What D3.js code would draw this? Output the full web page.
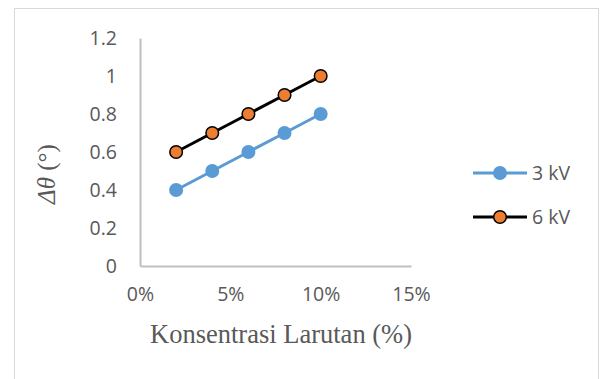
<!DOCTYPE html>
<html>
<head>
<meta charset="utf-8">
<script src="https://cdn.jsdelivr.net/npm/d3@7"></script>
<style>
  html, body { margin: 0; padding: 0; background: #fff; }
  svg { display: block; }
</style>
</head>
<body>
<div id="chart"></div>
<script>
// concentration (fraction) and delta theta per voltage
const konsentrasi = [0.02, 0.04, 0.06, 0.08, 0.10];
const series3kV = [0.4, 0.5, 0.6, 0.7, 0.8];
const series6kV = [0.6, 0.7, 0.8, 0.9, 1.0];
const seriesNames = ['3 kV', '6 kV'];
const xTicks = [0, 0.05, 0.10, 0.15];
const yTicks = [0, 0.2, 0.4, 0.6, 0.8, 1, 1.2];

const width = 600, height = 379;
const plot = { left: 140, right: 411, top: 38, bottom: 266 };

const svg = d3.select('#chart').append('svg')
    .attr('width', width)
    .attr('height', height);

// chart frame
svg.append('rect')
    .attr('x', 14.5).attr('y', 8.5)
    .attr('width', 584).attr('height', 380)
    .attr('fill', '#fff')
    .attr('stroke', '#d9d9d9')
    .attr('stroke-width', 1);

const x = d3.scaleLinear().domain([0, 0.15]).range([plot.left, plot.right]);
const y = d3.scaleLinear().domain([0, 1.2]).range([plot.bottom, plot.top]);

const tickFont = '"Open Sans", "Liberation Sans", sans-serif';
const textColor = '#595959';

// axes
const xAxis = svg.append('g')
    .attr('transform', `translate(0,${plot.bottom})`)
    .call(d3.axisBottom(x).tickValues(xTicks).tickFormat(d3.format('.0%')).tickSize(0).tickPadding(21));
const yAxis = svg.append('g')
    .attr('transform', `translate(${plot.left},0)`)
    .call(d3.axisLeft(y).tickValues(yTicks).tickFormat(d => d3.format('')(+d.toFixed(1))).tickSize(0).tickPadding(23));

[xAxis, yAxis].forEach(ax => {
    ax.select('.domain').attr('stroke', '#bfbfbf').attr('stroke-width', 2);
    ax.selectAll('text')
        .attr('font-family', tickFont)
        .attr('font-size', 19.5)
        .attr('fill', textColor);
});
yAxis.selectAll('text').attr('dy', '0.35em');

// series
const data = [
    { name: seriesNames[0], values: series3kV, line: '#5b9bd5', fill: '#5b9bd5', stroke: 'none' },
    { name: seriesNames[1], values: series6kV, line: '#000000', fill: '#ed7d31', stroke: '#000000' }
];

const line = d3.line()
    .x((d, i) => x(konsentrasi[i]))
    .y(d => y(d));

data.forEach(s => {
    svg.append('path')
        .datum(s.values)
        .attr('d', line)
        .attr('fill', 'none')
        .attr('stroke', s.line)
        .attr('stroke-width', 3);
    svg.selectAll(null)
        .data(s.values)
        .enter()
        .append('circle')
        .attr('cx', (d, i) => x(konsentrasi[i]))
        .attr('cy', d => y(d))
        .attr('r', s.stroke === 'none' ? 7 : 6.3)
        .attr('fill', s.fill)
        .attr('stroke', s.stroke)
        .attr('stroke-width', 1.5);
});

// legend
const legend = svg.append('g');
data.forEach((s, i) => {
    const ly = 173 + i * 44;
    legend.append('line')
        .attr('x1', 473).attr('x2', 527)
        .attr('y1', ly).attr('y2', ly)
        .attr('stroke', s.line)
        .attr('stroke-width', 3);
    legend.append('circle')
        .attr('cx', 500).attr('cy', ly)
        .attr('r', s.stroke === 'none' ? 7 : 6.3)
        .attr('fill', s.fill)
        .attr('stroke', s.stroke)
        .attr('stroke-width', 1.5);
    legend.append('text')
        .attr('x', 532).attr('y', ly)
        .attr('dy', '0.35em')
        .attr('font-family', tickFont)
        .attr('font-size', 19.5)
        .attr('fill', textColor)
        .text(s.name);
});

// axis titles
svg.append('text')
    .attr('x', 281).attr('y', 343)
    .attr('text-anchor', 'middle')
    .attr('font-family', '"Liberation Serif", "Times New Roman", serif')
    .attr('font-size', 26.5)
    .attr('fill', textColor)
    .text('Konsentrasi Larutan (%)');

const yTitle = svg.append('text')
    .attr('transform', 'translate(55,174) rotate(-90)')
    .attr('text-anchor', 'middle')
    .attr('font-family', '"Liberation Serif", "Times New Roman", serif')
    .attr('font-size', 25)
    .attr('fill', textColor);
yTitle.append('tspan').attr('font-style', 'italic').text('Δθ');
yTitle.append('tspan').text(' (°)');
</script>
</body>
</html>
